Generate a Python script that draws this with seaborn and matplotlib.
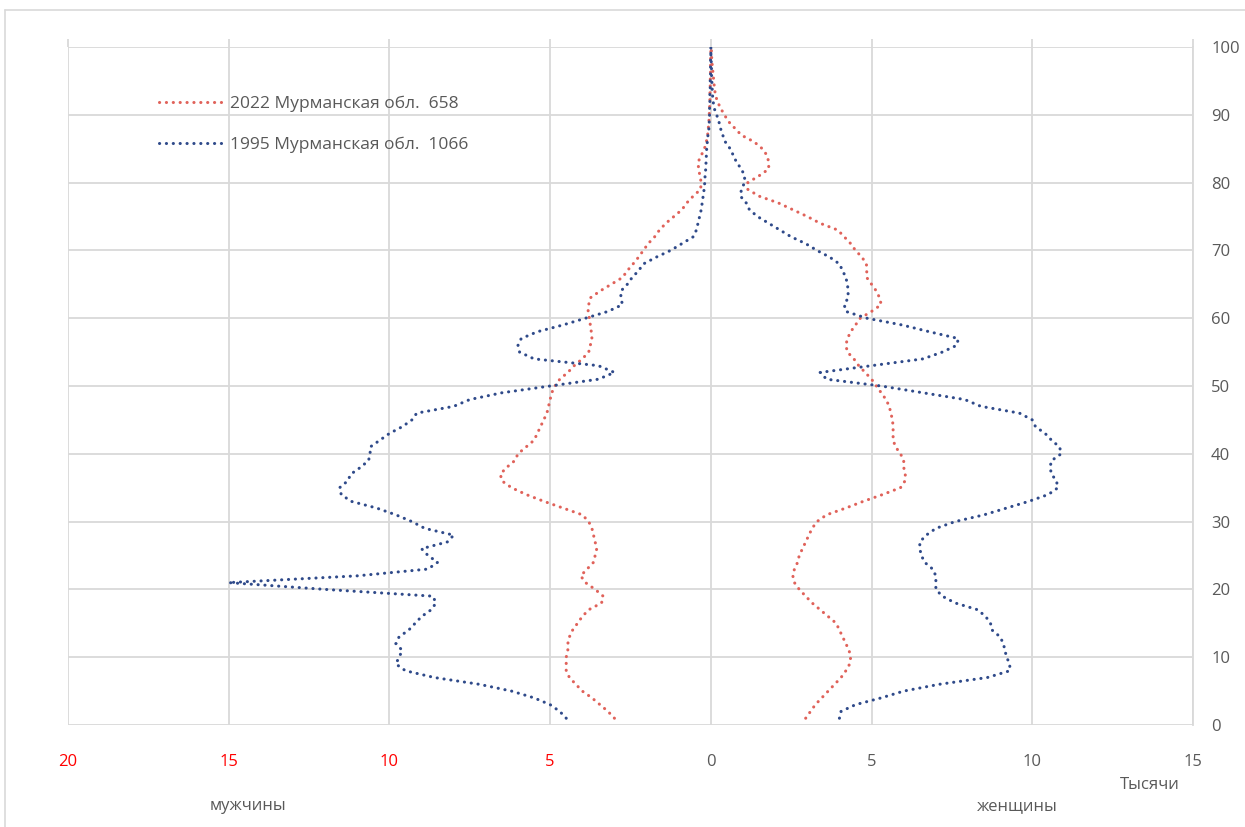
import matplotlib
matplotlib.use("Agg")
import matplotlib.pyplot as plt
from matplotlib.lines import Line2D
import seaborn as sns
import pandas as pd

# ---------------- data (thousands of people, by age) ----------------
ages = list(range(1, 101))

men_2022 = [3.0, 3.2, 3.45, 3.7, 4.0, 4.2, 4.4, 4.5, 4.5, 4.5,
            4.45, 4.45, 4.4, 4.3, 4.15, 4.0, 3.8, 3.4, 3.35, 3.6,
            3.9, 4.05, 3.85, 3.65, 3.6, 3.55, 3.6, 3.65, 3.7, 3.8,
            4.0, 4.6, 5.2, 5.75, 6.2, 6.5, 6.55, 6.35, 6.1, 6.0,
            5.75, 5.5, 5.4, 5.3, 5.2, 5.1, 5.05, 5.0, 4.95, 4.85,
            4.7, 4.45, 4.25, 4.0, 3.8, 3.75, 3.7, 3.72, 3.75, 3.78,
            3.82, 3.8, 3.75, 3.45, 3.1, 2.75, 2.6, 2.42, 2.25, 2.1,
            1.95, 1.75, 1.6, 1.4, 1.15, 0.9, 0.75, 0.55, 0.32, 0.3,
            0.34, 0.38, 0.4, 0.3, 0.2, 0.14, 0.1, 0.08, 0.06, 0.05,
            0.04, 0.03, 0.03, 0.02, 0.02, 0.01, 0.01, 0.01, 0.0, 0.0]

women_2022 = [2.95, 3.1, 3.25, 3.45, 3.65, 3.85, 4.05, 4.2, 4.32, 4.35,
              4.3, 4.2, 4.1, 4.0, 3.9, 3.65, 3.4, 3.15, 2.95, 2.75,
              2.6, 2.55, 2.6, 2.7, 2.75, 2.85, 2.95, 3.05, 3.15, 3.3,
              3.6, 4.2, 4.75, 5.35, 5.9, 6.04, 6.05, 6.0, 6.0, 5.9,
              5.75, 5.67, 5.67, 5.67, 5.65, 5.6, 5.55, 5.45, 5.3, 5.15,
              5.0, 4.8, 4.6, 4.45, 4.25, 4.2, 4.25, 4.35, 4.5, 4.65,
              5.0, 5.3, 5.25, 5.15, 5.0, 4.85, 4.85, 4.84, 4.7, 4.5,
              4.35, 4.15, 3.95, 3.4, 3.0, 2.55, 2.1, 1.5, 1.15, 1.15,
              1.5, 1.8, 1.8, 1.75, 1.6, 1.35, 0.95, 0.75, 0.55, 0.42,
              0.3, 0.2, 0.14, 0.11, 0.09, 0.07, 0.05, 0.03, 0.02, 0.01]

men_1995 = [4.5, 4.7, 5.0, 5.5, 6.2, 7.2, 8.6, 9.5, 9.8, 9.7,
            9.6, 9.8, 9.7, 9.4, 9.2, 9.0, 8.7, 8.55, 8.65, 12.0,
            15.0, 11.0, 8.8, 8.5, 8.8, 9.0, 8.2, 8.0, 8.9, 9.3,
            9.8, 10.4, 11.2, 11.5, 11.55, 11.3, 11.2, 10.9, 10.65, 10.6,
            10.6, 10.3, 10.0, 9.6, 9.3, 9.15, 8.0, 7.5, 6.5, 5.0,
            3.5, 3.0, 3.5, 5.5, 5.95, 6.0, 5.9, 5.4, 4.6, 3.9,
            3.2, 2.75, 2.8, 2.8, 2.6, 2.45, 2.25, 2.1, 1.7, 1.25,
            0.9, 0.55, 0.45, 0.4, 0.35, 0.3, 0.27, 0.24, 0.21, 0.19,
            0.18, 0.16, 0.15, 0.14, 0.13, 0.11, 0.09, 0.06, 0.05, 0.04,
            0.04, 0.03, 0.03, 0.02, 0.02, 0.01, 0.01, 0.01, 0.0, 0.0]

women_1995 = [4.0, 4.05, 4.5, 5.3, 6.0, 7.1, 8.6, 9.3, 9.3, 9.2,
              9.15, 9.1, 9.0, 8.75, 8.7, 8.55, 8.3, 7.6, 7.2, 7.0,
              7.0, 7.0, 6.9, 6.65, 6.55, 6.5, 6.5, 6.7, 7.0, 7.6,
              8.5, 9.2, 9.9, 10.5, 10.8, 10.75, 10.6, 10.55, 10.6, 10.9,
              10.85, 10.6, 10.4, 10.1, 10.0, 9.6, 8.4, 7.9, 6.6, 5.3,
              3.6, 3.4, 5.0, 6.6, 7.2, 7.65, 7.7, 6.8, 5.95, 4.85,
              4.2, 4.15, 4.27, 4.27, 4.25, 4.2, 4.1, 4.0, 3.7, 3.3,
              2.95, 2.5, 2.15, 1.8, 1.45, 1.2, 1.1, 0.92, 0.95, 1.05,
              1.05, 0.95, 0.8, 0.7, 0.6, 0.45, 0.37, 0.3, 0.25, 0.18,
              0.1, 0.07, 0.05, 0.04, 0.03, 0.02, 0.02, 0.01, 0.0, 0.0]

legend_labels = ["2022 Мурманская обл.  658", "1995 Мурманская обл.  1066"]
x_ticks = [-20, -15, -10, -5, 0, 5, 10, 15]
x_tick_labels = ["20", "15", "10", "5", "0", "5", "10", "15"]
y_ticks = list(range(0, 101, 10))

# ---------------- style ----------------
sns.set_theme(style="white")
plt.rcParams["font.family"] = ["Open Sans", "DejaVu Sans"]

RED = "#e0625a"
BLUE = "#2f4a8a"
GRID = "#d9d9d9"
TXT = "#595959"
FS = 12

fig = plt.figure(figsize=(12.45, 8.27), dpi=100)
ax = fig.add_axes([68 / 1245, 1 - 725 / 827, (1193 - 68) / 1245, (725 - 47) / 827])

df = pd.DataFrame({
    "age": ages * 4,
    "value": [-v for v in men_2022] + women_2022 + [-v for v in men_1995] + women_1995,
    "series": ["m22"] * 100 + ["w22"] * 100 + ["m95"] * 100 + ["w95"] * 100,
})

dot_style = dict(linewidth=2.2, linestyle=(0, (0.05, 2.2)), dash_capstyle="round")
for key, col in [("m22", RED), ("w22", RED), ("m95", BLUE), ("w95", BLUE)]:
    sub = df[df["series"] == key]
    sns.lineplot(data=sub, x="value", y="age", orient="y", estimator=None,
                 color=col, legend=False, ax=ax, **dot_style)

ax.set_xlim(-20, 15)
ax.set_ylim(0, 100)
ax.set_xticks(x_ticks)
ax.set_xticklabels(x_tick_labels)
for lbl, v in zip(ax.get_xticklabels(), x_ticks):
    lbl.set_color("#ff0000" if v < 0 else TXT)
    lbl.set_fontsize(FS)
ax.set_yticks(y_ticks)
ax.yaxis.tick_right()
ax.tick_params(axis="y", length=0, pad=13, labelsize=FS, labelcolor=TXT)
ax.tick_params(axis="x", bottom=False, top=True, labelbottom=True, labeltop=False,
               direction="out", length=6, width=1.3, color=GRID, pad=15)
ax.set_xlabel("")
ax.set_ylabel("")

ax.grid(True, color=GRID, linewidth=1.3)
ax.set_axisbelow(True)
for side in ["top", "left", "bottom"]:
    ax.spines[side].set_visible(False)
ax.spines["right"].set_color(GRID)
ax.spines["right"].set_linewidth(1.3)

handles = [Line2D([], [], color=RED, **dot_style),
           Line2D([], [], color=BLUE, **dot_style)]
leg = ax.legend(handles, legend_labels, loc="upper left",
                bbox_to_anchor=(0.075, 0.939), frameon=False, fontsize=12.5,
                handlelength=3.6, handletextpad=0.45, labelspacing=1.45,
                labelcolor=TXT, borderaxespad=0.0)

fig.text(248 / 1245, 1 - 806 / 827, "мужчины", ha="center", va="center",
         fontsize=FS, color=TXT)
fig.text(1017 / 1245, 1 - 806 / 827, "женщины", ha="center", va="center",
         fontsize=FS, color=TXT)
fig.text(1150 / 1245, 1 - 785 / 827, "Тысячи", ha="center", va="center",
         fontsize=FS, color=TXT)

# chart frame
fig.add_artist(Line2D([5 / 1245, 5 / 1245], [0, 1 - 10 / 827],
                      transform=fig.transFigure, color=GRID, linewidth=1.2))
fig.add_artist(Line2D([5 / 1245, 1], [1 - 10 / 827, 1 - 10 / 827],
                      transform=fig.transFigure, color=GRID, linewidth=1.2))

fig.savefig("out.png", dpi=100, facecolor="white")
